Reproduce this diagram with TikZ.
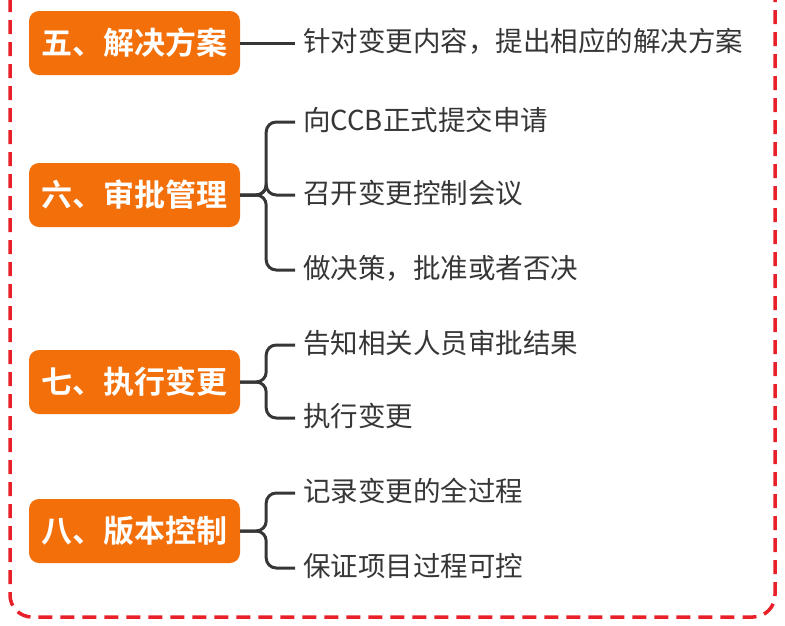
\documentclass[tikz,border=0pt]{standalone}
\usepackage{fontspec}
\setmainfont{Noto Sans CJK SC}[BoldFont={Noto Sans CJK SC Bold}]
\usepackage{tikz}
\usetikzlibrary{calc}
\definecolor{stepOrange}{HTML}{F36F0A}
\definecolor{lineGray}{HTML}{363636}
\definecolor{frameRed}{HTML}{E8202A}

\begin{document}
\begin{tikzpicture}[x=1pt, y=-1pt,
    stagebox/.style={fill=stepOrange, rounded corners=10pt, minimum width=211pt, minimum height=64pt,
      text=white, font=\fontsize{31}{31}\selectfont\bfseries, inner sep=0pt},
    itemtext/.style={anchor=west, inner sep=0pt, text=lineGray, text height=21pt, text depth=4.5pt,
      font=\fontsize{27.5}{27.5}\selectfont},
    branch/.style={lineGray, line width=3pt, rounded corners=10pt}]
    \useasboundingbox (0,0) rectangle (785,625);
    \def\bx{134.5}; % stage box x centre
    \def\tx{303}; % item text x
    
    % dashed frame %%%%%%%%%%%%%%%%%%%%%%%%%%%%%%%%%%%%%%%%%%%%%%%%%%%%%%%%%%%%%%
    \draw[frameRed, line width=3.5pt, dash pattern=on 14pt off 8pt, rounded corners=22pt]
      (10,-2) -- (10,617) -- (775,617) -- (775,-2);
    
    % stage boxes %%%%%%%%%%%%%%%%%%%%%%%%%%%%%%%%%%%%%%%%%%%%%%%%%%%%%%%%%%%%%%%
    \node[stagebox] (s5) at (\bx,43) {五、解决方案};
    \node[stagebox] (s6) at (\bx,195) {六、审批管理};
    \node[stagebox] (s7) at (\bx,382) {七、执行变更};
    \node[stagebox] (s8) at (\bx,531) {八、版本控制};
    
    % items %%%%%%%%%%%%%%%%%%%%%%%%%%%%%%%%%%%%%%%%%%%%%%%%%%%%%%%%%%%%%%%%%%%%%
    \node[itemtext] (i51) at (\tx,43) {针对变更内容，提出相应的解决方案};
    \node[itemtext] (i61) at (\tx,122) {向CCB正式提交申请};
    \node[itemtext] (i62) at (\tx,195) {召开变更控制会议};
    \node[itemtext] (i63) at (\tx,270) {做决策，批准或者否决};
    \node[itemtext] (i71) at (\tx,345) {告知相关人员审批结果};
    \node[itemtext] (i72) at (\tx,418) {执行变更};
    \node[itemtext] (i81) at (\tx,493) {记录变更的全过程};
    \node[itemtext] (i82) at (\tx,568) {保证项目过程可控};
    
    % branches %%%%%%%%%%%%%%%%%%%%%%%%%%%%%%%%%%%%%%%%%%%%%%%%%%%%%%%%%%%%%%%%%%
    \draw[branch] (s5.east) -- ([xshift=-8pt]i51.west);
    \foreach \c in {i61,i62,i63}{
      \draw[branch] (s6.east) -- ++(26,0) |- ([xshift=-8pt]\c.west);
    }
    \foreach \c in {i71,i72}{
      \draw[branch] (s7.east) -- ++(26,0) |- ([xshift=-8pt]\c.west);
    }
    \foreach \c in {i81,i82}{
      \draw[branch] (s8.east) -- ++(26,0) |- ([xshift=-8pt]\c.west);
    }
\end{tikzpicture}
\end{document}
